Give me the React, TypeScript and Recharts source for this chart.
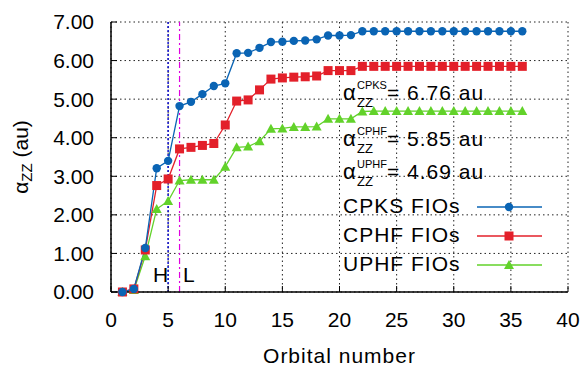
import React from "react"
import {
  LineChart,
  Line,
  XAxis,
  YAxis,
  CartesianGrid,
  ReferenceLine,
  Customized,
} from "recharts"

const orbitals = [
  1, 2, 3, 4, 5, 6, 7, 8, 9, 10, 11, 12, 13, 14, 15, 16, 17, 18,
  19, 20, 21, 22, 23, 24, 25, 26, 27, 28, 29, 30, 31, 32, 33, 34, 35, 36,
]
const cpks = [
  0.0, 0.08, 1.14, 3.21, 3.4, 4.82, 4.93, 5.13, 5.34, 5.41, 6.19, 6.2, 6.33, 6.48, 6.49, 6.51, 6.52, 6.55,
  6.65, 6.65, 6.66, 6.76, 6.76, 6.76, 6.76, 6.76, 6.76, 6.76, 6.76, 6.76, 6.76, 6.76, 6.76, 6.76, 6.76, 6.76,
]
const cphf = [
  0.0, 0.08, 1.09, 2.76, 2.93, 3.71, 3.75, 3.8, 3.85, 4.33, 4.95, 4.98, 5.24, 5.52, 5.55, 5.57, 5.58, 5.6,
  5.74, 5.74, 5.74, 5.85, 5.85, 5.85, 5.85, 5.85, 5.85, 5.85, 5.85, 5.85, 5.85, 5.85, 5.85, 5.85, 5.85, 5.85,
]
const uphf = [
  0.0, 0.05, 0.93, 2.15, 2.36, 2.89, 2.91, 2.91, 2.91, 3.25, 3.75, 3.77, 3.91, 4.23, 4.24, 4.28, 4.28, 4.29,
  4.49, 4.49, 4.49, 4.68, 4.69, 4.69, 4.69, 4.69, 4.69, 4.69, 4.69, 4.69, 4.69, 4.69, 4.69, 4.69, 4.69, 4.69,
]
const xTicks = [0, 5, 10, 15, 20, 25, 30, 35, 40]
const yTicks = [0, 1, 2, 3, 4, 5, 6, 7]
const homo = 5
const lumo = 6

const BLUE = "#0a64b4"
const RED = "#e3202a"
const GREEN = "#62d22a"
const FONT = "'Liberation Sans', Arial, sans-serif"

const data = orbitals.map((o, i) => ({ orbital: o, cpks: cpks[i], cphf: cphf[i], uphf: uphf[i] }))

const Circle = ({ cx, cy }: any) => <circle cx={cx} cy={cy} r={4.2} fill={BLUE} />
const Square = ({ cx, cy }: any) => (
  <rect x={cx - 4.5} y={cy - 4.5} width={9} height={9} fill={RED} />
)
const Triangle = ({ cx, cy }: any) => (
  <polygon points={`${cx},${cy - 5} ${cx - 5},${cy + 4} ${cx + 5},${cy + 4}`} fill={GREEN} />
)

const Extras = () => {
  const txt = { fontFamily: FONT, fill: "#000" }
  const ann = [
    { sup: "CPKS", val: "= 6.76 au", y: 100 },
    { sup: "CPHF", val: "= 5.85 au", y: 146 },
    { sup: "UPHF", val: "= 4.69 au", y: 179 },
  ]
  const leg = [
    { name: "CPKS FIOs", color: BLUE, y: 207, Mark: Circle },
    { name: "CPHF FIOs", color: RED, y: 236, Mark: Square },
    { name: "UPHF FIOs", color: GREEN, y: 265, Mark: Triangle },
  ]
  return (
    <g>
      <text transform="translate(28,157) rotate(-90)" textAnchor="middle" fontSize={21} {...txt}>
        α<tspan dy={4} fontSize={15}>ZZ</tspan>
        <tspan dy={-4}> (au)</tspan>
      </text>
      <text x={153} y={282} fontSize={21} {...txt}>H</text>
      <text x={183} y={282} fontSize={21} {...txt}>L</text>
      {ann.map((a) => (
        <g key={a.sup}>
          <text x={343} y={a.y} fontSize={22} {...txt}>α</text>
          <text x={357} y={a.y - 11} fontSize={11} {...txt}>{a.sup}</text>
          <text x={357} y={a.y + 7} fontSize={13} {...txt}>ZZ</text>
          <text x={387} y={a.y} fontSize={21} letterSpacing={1} {...txt}>{a.val}</text>
        </g>
      ))}
      {leg.map((l) => (
        <g key={l.name}>
          <text x={343} y={l.y + 6} fontSize={21} letterSpacing={1} {...txt}>{l.name}</text>
          <line x1={477} x2={542} y1={l.y} y2={l.y} stroke={l.color} strokeWidth={1.5} />
          <l.Mark cx={509} cy={l.y} />
        </g>
      ))}
    </g>
  )
}

export default function App() {
  return (
    <div style={{ position: "absolute", left: 0, top: 0, background: "#fff" }}>
      <LineChart
        width={586}
        height={375}
        data={data}
        margin={{ top: 22, right: 18, bottom: 0, left: 0 }}
        style={{ fontFamily: FONT }}
      >
        <CartesianGrid stroke="#222" strokeDasharray="1.5 3" strokeWidth={1} />
        <XAxis
          dataKey="orbital"
          type="number"
          domain={[0, 40]}
          ticks={xTicks}
          height={83}
          tickSize={-6}
          tickMargin={26}
          axisLine={{ stroke: "#000", strokeWidth: 1.5 }}
          tickLine={{ stroke: "#000" }}
          tick={{ fill: "#000", fontSize: 21, fontFamily: FONT }}
          label={{ value: "Orbital number", position: "insideBottom", offset: 12, fill: "#000", fontSize: 21, letterSpacing: 1, fontFamily: FONT }}
        />
        <XAxis
          xAxisId="top"
          orientation="top"
          dataKey="orbital"
          type="number"
          domain={[0, 40]}
          ticks={xTicks}
          height={0}
          tickSize={-6}
          tickFormatter={() => ""}
          axisLine={{ stroke: "#000", strokeWidth: 1.5 }}
          tickLine={{ stroke: "#000" }}
        />
        <YAxis
          type="number"
          domain={[0, 7]}
          ticks={yTicks}
          width={111}
          tickSize={-6}
          tickMargin={23}
          tickFormatter={(v: number) => v.toFixed(2)}
          axisLine={{ stroke: "#000", strokeWidth: 1.5 }}
          tickLine={{ stroke: "#000" }}
          tick={{ fill: "#000", fontSize: 21, fontFamily: FONT }}
        />
        <YAxis
          yAxisId="right"
          orientation="right"
          type="number"
          domain={[0, 7]}
          ticks={yTicks}
          width={0}
          tickSize={-6}
          tickFormatter={() => ""}
          axisLine={{ stroke: "#000", strokeWidth: 1.5 }}
          tickLine={{ stroke: "#000" }}
        />
        <ReferenceLine x={homo} stroke="#1010d0" strokeWidth={1.5} strokeDasharray="2 2" />
        <ReferenceLine x={lumo} stroke="#e000e0" strokeWidth={1.2} strokeDasharray="6 3 2 3" />
        <Line dataKey="uphf" stroke={GREEN} strokeWidth={1.3} dot={<Triangle />} isAnimationActive={false} />
        <Line dataKey="cphf" stroke={RED} strokeWidth={1.3} dot={<Square />} isAnimationActive={false} />
        <Line dataKey="cpks" stroke={BLUE} strokeWidth={1.3} dot={<Circle />} isAnimationActive={false} />
        <Customized component={Extras} />
      </LineChart>
    </div>
  )
}
